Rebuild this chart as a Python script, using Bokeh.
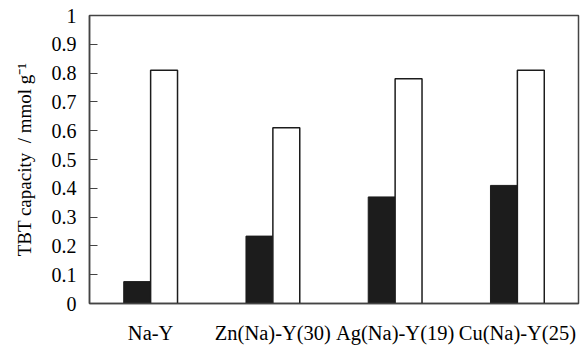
from bokeh.plotting import figure
from bokeh.models import ColumnDataSource, FixedTicker, Range1d
from bokeh.transform import dodge
from bokeh.embed import file_html
from bokeh.resources import INLINE

categories = ["Na-Y", "Zn(Na)-Y(30)", "Ag(Na)-Y(19)", "Cu(Na)-Y(25)"]
series_dark = [0.076, 0.234, 0.37, 0.41]
series_light = [0.81, 0.61, 0.78, 0.81]
y_ticks = [0, 0.1, 0.2, 0.3, 0.4, 0.5, 0.6, 0.7, 0.8, 0.9, 1.0]
y_tick_labels = ["0", "0.1", "0.2", "0.3", "0.4", "0.5", "0.6", "0.7", "0.8", "0.9", "1"]

FONT = "Liberation Serif"

src = ColumnDataSource(dict(cat=categories, dark=series_dark, light=series_light))

p = figure(x_range=categories, y_range=Range1d(0, 1), width=585, height=349,
           output_backend="svg", toolbar_location=None,
           min_border_left=89, min_border_right=7, min_border_top=15, min_border_bottom=46)
p.x_range.range_padding = 0
p.x_range.factor_padding = 0

p.vbar(x=dodge("cat", -0.11, range=p.x_range), top="dark", width=0.22, source=src,
       fill_color="#1c1c1c", line_color="#1c1c1c", line_width=1)
p.vbar(x=dodge("cat", 0.11, range=p.x_range), top="light", width=0.22, source=src,
       fill_color="white", line_color="#1c1c1c", line_width=1.5)

p.grid.visible = False
p.background_fill_color = "white"
p.border_fill_color = "white"
p.outline_line_color = "#444444"
p.outline_line_width = 1.5

# y axis: inward ticks, serif labels
ya = p.yaxis[0]
ya.ticker = FixedTicker(ticks=y_ticks)
ya.major_label_overrides = {t: s for t, s in zip(y_ticks, y_tick_labels)}
ya.major_tick_in = 8
ya.major_tick_out = 0
ya.minor_tick_line_color = None
ya.axis_line_color = "#444444"
ya.axis_line_width = 1.5
ya.major_tick_line_color = "#444444"
ya.major_tick_line_width = 1.2
ya.major_label_text_font = FONT
ya.major_label_text_font_size = "20px"
ya.major_label_text_color = "black"
ya.major_label_standoff = 13
ya.axis_label = "TBT capacity\u00a0\u00a0/ mmol g\u207b\u00b9"
ya.axis_label_text_font = FONT
ya.axis_label_text_font_size = "19px"
ya.axis_label_text_font_style = "normal"
ya.axis_label_text_color = "black"
ya.axis_label_standoff = 14

# x axis: category names only, no ticks
xa = p.xaxis[0]
xa.major_tick_line_color = None
xa.minor_tick_line_color = None
xa.axis_line_color = "#444444"
xa.axis_line_width = 1.5
xa.major_label_text_font = FONT
xa.major_label_text_font_size = "20.5px"
xa.major_label_text_color = "black"
xa.major_label_standoff = 12

open("out.html", "w").write(file_html(p, INLINE))
